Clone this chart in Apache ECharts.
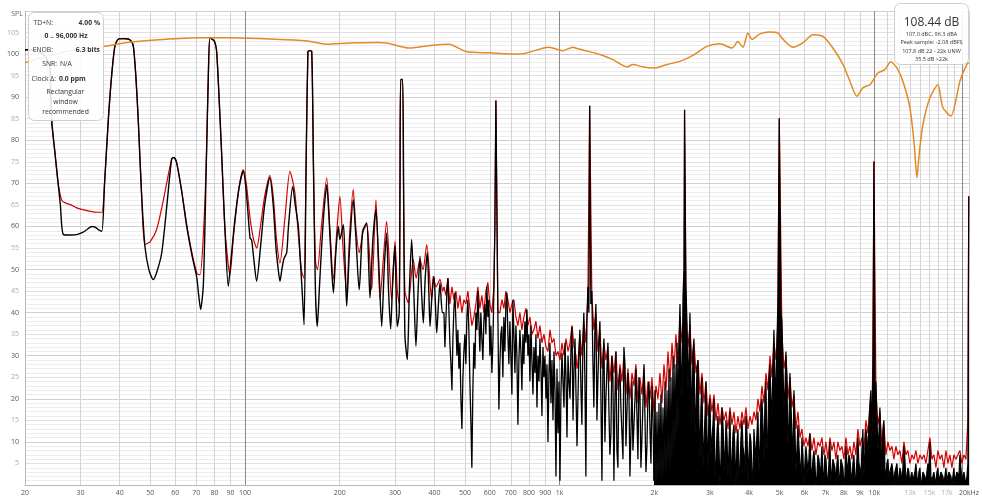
<!DOCTYPE html>
<html>
<head>
<meta charset="utf-8">
<script src="https://cdn.jsdelivr.net/npm/echarts@6/dist/echarts.min.js"></script>
<style>
html,body{margin:0;padding:0;background:#fff;}
#c{width:982px;height:500px;}
</style>
</head>
<body>
<div id="c"></div>
<script>
// ---------- axis definitions ----------
const xGridFreqs = [20,30,40,50,60,70,80,90,100,200,300,400,500,600,700,800,900,1000,2000,3000,4000,5000,6000,7000,8000,9000,10000,11000,12000,13000,14000,15000,16000,17000,18000,19000,20000];
const xLabelFreqs = [20,30,40,50,60,70,80,90,100,200,300,400,500,600,700,800,900,1000,2000,3000,4000,5000,6000,7000,8000,9000,10000,13000,15000,17000,20000];
const xLabelTexts = ['20','30','40','50','60','70','80','90','100','200','300','400','500','600','700','800','900','1k','2k','3k','4k','5k','6k','7k','8k','9k','10k','13k','15k','17k','20kHz'];
const xFaintLabels = ['13k','15k','17k'];
const yMin = 0, yMax = 110, yStep = 5;
const denseFromHz = 1995;   // above this the black spectrum is a dense filled mass

// ---------- low-frequency part of spectra [Hz, dB] (smooth region) ----------
const blackLow = [[20,101.0],[21,101.0],[21.8,100.8],[22.6,100.2],[23.1,99.5],[23.6,98.5],[24.0,97.2],[24.3,84.8],[24.9,77.1],[25.9,65.1],[26.5,58.1],[28,58.0],[29.2,58.1],[30.5,58.6],[31.5,59.3],[32.6,60.0],[33.5,59.8],[34.3,59.2],[35.1,58.9],[35.8,70],[36.8,84.8],[37.7,95],[38.6,101.8],[39.6,103.5],[41,103.6],[42.6,103.5],[43.5,103.0],[44.2,101.8],[45,95],[45.8,84.8],[46.9,68],[48.1,55.4],[49.5,50],[51.1,47.7],[52.5,49.5],[54.4,53.9],[56.5,65],[58.5,75.7],[59.5,76],[60.7,74.7],[63,68],[65.3,60.0],[68,53],[70.2,48.4],[71.3,44],[72.3,40.7],[73.8,46.9],[75.5,77.1],[76.5,95],[77.4,103.8],[78.9,103.4],[80,103],[81.2,101.0],[82.5,92],[84.3,77.1],[86.3,60],[88.5,46.1],[90.5,53],[92.9,61.6],[95.8,69],[98.8,72.8],[101,68],[103.8,57.3],[105,56.9],[106.5,53],[108.9,47.3],[112,55],[115.5,65],[120,71.3],[123,65],[125.5,55],[127.6,50],[129.2,47.3],[131,50],[133,52.5],[135.7,53.9],[137.5,60],[141.8,69.3],[144.5,65],[147.8,60.0],[150,52],[152,45],[154.1,37.2],[156.5,75],[158.5,100.5],[160,100.8],[163,100.6],[165,75],[167.5,45],[169.8,36.8],[172.5,46],[175.3,55.4],[178.5,64],[181.9,69.7],[185,62],[188,52],[191,44.6],[194.5,54],[198,60.0],[200.3,57.0],[205.4,60.4],[208,52],[210.5,41.5],[215,55],[220.8,66.2],[225,58],[230.7,45.3],[236.6,58.9],[243.7,60.8],[247,52],[249.7,43.4],[255,57],[260.8,63.9],[266,52],[272,36.8],[277,50],[281.9,58.5],[286,45],[290.4,36.2],[295,48],[299.8,55.4],[302,46],[304.8,36.8],[309.2,39.9],[311,70],[312.6,94.1],[317,94.1],[319.5,65],[322.5,34.5],[328.1,29.1],[333,45],[338.7,57.0],[344,45],[349.5,32.2],[355,45],[359.9,53.1],[364,45],[368.9,37.6],[374,48],[379.8,53.9],[384,45],[387.4,36.8],[393,44],[398.9,48.4],[403,42],[406.9,35.3],[412,42],[416.7,46.9],[424,40]];

const redLow = [[20,101.0],[21,101.0],[21.8,100.8],[22.6,100.2],[23.1,99.5],[23.6,98.5],[24.0,97.2],[24.3,84.8],[24.9,77.1],[25.5,70],[26.2,66],[27,65.4],[28,65.0],[29.2,64.3],[30.5,63.9],[32.3,63.5],[34,63.3],[35.1,63.3],[35.8,70],[36.8,84.8],[37.7,95],[38.6,101.8],[39.6,103.5],[41,103.6],[42.6,103.5],[43.5,103.0],[44.2,101.8],[45,95],[45.8,84.8],[46.9,68],[48.1,55.8],[50,56.5],[52.4,59.3],[55,66],[58.5,75.7],[59.5,76],[60.7,74.7],[63,68],[65.3,60.5],[68,53.5],[70.5,49],[72,48.8],[74,60],[75.5,77.1],[76.5,95],[77.4,103.8],[78.9,103.4],[80,103],[81.2,101.0],[82.5,92],[84.3,77.1],[86.3,60],[89.6,48.8],[92,58],[95.8,69],[98.8,73.2],[101,70],[103.8,62],[106.5,57],[109,55],[112,60],[115.5,67],[120,71.8],[123,67],[126,57],[129.2,51.5],[134,62],[139,72.8],[144,68],[147.8,58],[151.4,49.6],[154,48],[156.5,75],[158.5,100.5],[160,100.8],[163,100.6],[165,75],[167.5,52],[170,50],[175,60],[181.9,71.3],[186,60],[191,47.7],[195.5,58],[200.3,67.0],[205,55],[210.5,44.6],[215,58],[220.8,68.6],[225,60],[230.7,53.9],[237.7,58.9],[244,60.4],[252.9,45.3],[260.8,66.2],[268.7,43.0],[275,52],[281.9,61.2],[292.5,43.0],[299.8,56.6],[305,45],[309.2,42],[311,70],[312.6,94.1],[317,94.1],[319.5,65],[322.5,45],[330.3,42.3],[342.7,52.3],[350,48],[359.9,52.3],[368,50],[378.2,55.8],[392,43.0],[396.4,48.4],[405,46],[416.7,47.7],[425,45]];

// ---------- mid band 429 Hz - 1136 Hz ----------
const blackMidFreq = [
429,432,435,438.5,441.7,445,448,451.5,454.8,458,
461.5,464.8,468.2,471.7,475,478.6,482,485.6,489.2,492.8,
496.4,500,503.7,507.4,511,514.8,518.6,522.4,526.2,530,
534,538,541.9,545.9,549.9,553.9,558,562,566.2,570.3,
574.5,578.7,583,587.3,591.6,595.9,600.3,604.7,609.2,613.7,
618.2,622.7,627.3,631.9,636.5,641.2,645.9,650.6,655.4,660.2,
665.1,670,674.9,679.9,684.9,689.9,695,700.1,705.3,710.5,
715.7,721,726.3,731.6,737,742.4,747.9,753.4,758.9,764.5,
770.1,775.8,781.5,787.3,793.1,798.9,804.8,810.7,816.7,822.7,
828.7,834.8,841,847.2,853.4,859.7,866,872.4,878.8,885.3,
891.8,898.3,905,911.6,918.3,925.1,931.9,938.7,945.6,952.6,
959.6,966.7,973.8,981,988.2,995.4,1002.7,1010.1,1017.5,1025,
1032.6,1040.2,1047.8,1055.5,1063.3,1071.1,1079,1086.9,1094.9,1103,
1111.1,1119.3,1127.5,1135.8];
const blackMidDb = [
40,32,38,45,48,40,33,28,22,34,
41,44.6,38,30,36,27,33,20,13,25,
31,35,28,39,43,36,24,15,4,22,
33,27,40,36,45,38,31,40,34,29,
38,42,35,46,39,43,30,37,26,33,
45,60,89.2,89.2,40,17.5,28,35,36.8,25,
39,31,42,44.6,35,28,38,30,21,43,
35,26,37,30,14,29,36,31,22,35,
28,38,33,40.7,30,35,24,37,29,21,
32,26,35,18,30,24,34,27,16,32,
25,30,20,28,10,26,33,19,29,15,
31,22,2,27,12,24,1,22,30.7,24,
18,33,25,11,30,24,20,32,36.8,15,
27,34,21,9];

const redMid = [[429,46],[435,44],[441.7,48],[448,42],[454.8,46],[461.5,43],[468.2,45],[475,41],[482,44],[489.2,40],[496.4,43],[503.7,42],[511,45],[518.6,41],[526.2,37],[534,39],[541.9,42],[549.9,46],[558,41],[566.2,44],[574.5,40],[583,45],[591.6,47],[600.3,42],[609.2,40],[618.2,46],[622.7,60],[627.3,89.2],[631.9,89.2],[636.5,40],[645.9,40],[655.4,43],[665.1,41],[674.9,45],[684.9,43],[695,40],[705.3,42],[715.7,43],[726.3,39],[737,37],[747.9,40],[758.9,36],[770.1,39],[781.5,41],[793.1,37],[804.8,39],[816.7,35],[828.7,36],[841,38],[853.4,34],[866,37],[878.8,33],[891.8,35],[905,32],[918.3,31],[931.9,36],[945.6,33],[959.6,34],[973.8,30],[988.2,31],[1002.7,29],[1017.5,33],[1032.6,30],[1047.8,34],[1063.3,31],[1079,33],[1094.9,37],[1111.1,32],[1127.5,30],[1135.8,27]];

// ---------- high band (shared frequency list) ----------
const hfFreq = [
1143,1160,1177,1194,1212,1230,1246,1251,1266,1285,
1304,1323,1343,1363,1383,1403,1424,1445,1466,1488,
1510,1532,1555,1578,1601,1625,1649,1673,1698,1723,
1748,1774,1800,1827,1854,1881,1909,1937,1966,1995,
2024,2054,2084,2115,2146,2178,2210,2243,2276,2309,
2343,2378,2413,2449,2485,2495,2502,2521,2558,2596,
2634,2673,2713,2753,2793,2834,2876,2918,2961,3005,
3049,3094,3140,3186,3233,3281,3329,3378,3428,3478,
3530,3582,3635,3688,3743,3798,3854,3911,3968,4027,
4086,4146,4207,4269,4332,4396,4461,4526,4593,4661,
4729,4799,4870,4941,4990,5005,5088,5163,5239,5316,
5395,5474,5555,5637,5720,5804,5890,5977,6065,6154,
6245,6337,6430,6525,6621,6718,6817,6918,7020,7123,
7228,7335,7443,7552,7664,7777,7891,8008,8126,8245,
8367,8490,8615,8742,8871,9002,9134,9269,9406,9544,
9685,9828,9900,9975,10010,10120,10269,10420,10574,10730,
10888,11049,11211,11377,11544,11715,11887,12062,12240,12421,
12604,12790,12978,13170,13364,13561,13761,13964,14170,14379,
14591,14806,15024,15246,15471,15699,15930,16165,16404,16645,
16891,17140,17393,17649,17909,18173,18441,18713,18989,19269,
19553,19841,19960,20000];

const blackHfDb = [
9,36,14,40,2,46,88,88,45,18,
42,24,38,1,34,20,33,7,30,1,
31,4,27,12,32,9,26,2,24,14,
27,6,22,11,28,3,21,13,23,1,
0,1,2,1,3,2,5,3,6,8,
10,12,42,20,50,87.1,87,46,22,40,
14,34,18,29,6,25,10,24,3,20,
11,20,5,16,0,18,8,15,2,17,
6,14,0,13,4,15,7,16,1,12,
3,13,6,17,9,20,5,24,12,28,
16,36,22,43,85.1,85,38,18,31,9,
26,12,22,3,14,5,11,0,9,3,
12,2,8,0,7,3,9,1,6,0,
10,3,6,0,7,2,5,0,9,3,
6,0,7,1,11,4,8,2,13,6,
19,10,27,75.1,75,24,8,18,3,15,
1,6,3,5,0,4,2,4,0,9,
1,4,0,3,2,5,0,4,1,3,
0,5,10,1,3,0,4,2,3,0,
4,1,3,0,4,2,3,7,1,3,
0,5,67,67];

// black only: in-between bins
const hfOddFreq = [
1151,1169,1186,1203,1221,1239,1257,1275,1294,1314,
1333,1353,1373,1393,1413,1434,1456,1477,1499,1521,
1543,1566,1590,1613,1637,1661,1685,1710,1736,1761,
1787,1813,1840,1868,1895,1923,1951,1980,2010,2039,
2069,2099,2131,2162,2194,2226,2259,2293,2326,2360,
2395,2431,2467,2539,2577,2615,2653,2693,2733,2773,
2813,2855,2897,2939,2983,3027,3071,3117,3163,3209,
3257,3305,3353,3403,3453,3504,3556,3608,3662,3715,
3770,3826,3882,3940,3997,4057,4116,4176,4238,4300,
4364,4428,4494,4559,4627,4695,4764,4834,4906,5051,
5125,5201,5277,5355,5435,5514,5596,5678,5762,5847,
5933,6021,6110,6199,6291,6384,6477,6573,6670,6767,
6867,6969,7072,7175,7281,7389,7498,7607,7720,7834,
7949,8067,8186,8305,8428,8552,8678,8806,8936,9068,
9201,9337,9475,9614,9756,10060,10194,10344,10496,10652,
10809,10968,11130,11293,11460,11629,11801,11974,12151,12330,
12512,12697,12884,13073,13267,13462,13661,13862,14066,14274,
14485,14698,14915,15134,15358,15585,15814,16047,16284,16524,
16767,17015,17266,17521,17779,18040,18306,18576,18850,19128,
19410,19697];
const blackOddDb = [
30,22,33,25,38,40,42,30,35,15,
33,20,28,10,26,18,12,25,20,8,
24,18,6,28,17,21,12,8,20,16,
25,4,19,15,9,24,5,16,22,17,
19,21,18,24,22,27,25,30,28,33,
33,28,44,38,30,25,31,12,27,15,
18,4,16,12,18,7,14,2,12,9,
6,14,3,11,8,1,12,7,10,2,
11,9,3,12,7,10,1,9,12,3,
18,14,20,8,25,20,28,25,33,40,
28,22,25,14,19,5,13,8,9,2,
7,5,9,6,4,6,5,2,6,4,
3,7,2,5,1,6,4,5,1,6,
4,2,5,7,3,5,2,6,5,1,
13,8,11,14,22,20,16,12,10,13,
4,5,2,4,3,3,5,1,3,4,
6,2,3,2,1,3,2,3,0,3,
2,3,4,2,2,3,3,0,3,2,
2,1,3,2,2,0,3,2,4,2,
3,2];

const redHfDb = [
28,35,30,38,33,44,88,88,44,36,
40,31,36,27,33,29,32,24,30,26,
31,22,28,24,30,21,27,20,26,23,
28,19,25,21,27,18,24,20,25,17,
23,20,26,19,28,22,31,24,33,27,
35,28,39,33,42,87.1,87,40,32,37,
28,33,26,29,21,26,19,24,16,21,
17,21,15,19,14,18,15,17,13,18,
14,17,12,16,13,17,14,18,13,16,
14,17,15,20,17,23,19,26,22,30,
25,33,29,38,85.1,85,35,27,30,20,
25,18,21,13,17,11,13,9,11,9,
12,8,11,7,10,9,11,7,10,6,
11,8,10,6,10,8,9,6,11,7,
9,6,10,7,13,9,11,8,15,12,
18,16,30,75.1,75,22,14,17,9,14,
7,10,8,9,6,9,7,8,5,10,
7,8,5,7,6,8,5,7,6,7,
5,8,11,6,7,4,8,6,7,4,
8,5,7,4,7,6,7,8,5,7,
6,15,67,67];

// ---------- orange SPL curve [Hz, dB] ----------
const orangeSpl = [[20,98.0],[23.5,99.5],[28.8,101.0],[35.9,101.8],[42.2,102.7],[54.9,103.4],[71.4,103.8],[89.6,103.8],[120,103.5],[156,103.1],[182,102.3],[216,102.6],[263,102.7],[285,102.5],[332,101.4],[387,102.0],[445,102.3],[504,100.6],[600,100.3],[748,100.0],[925,101.6],[1025,100.8],[1102,101.6],[1135,101.3],[1222,100.7],[1343,99.9],[1478,98.7],[1637,97.0],[1711,97.6],[1841,97.0],[2009,96.8],[2193,97.6],[2410,98.3],[2653,99.7],[2938,101.8],[3232,102.4],[3529,101.4],[3687,102.9],[3825,101.6],[3968,104.9],[4085,103.4],[4331,104.7],[4657,105.1],[4941,104.9],[5087,103.7],[5513,101.6],[5930,102.6],[6383,104.5],[6865,104.1],[7387,101.4],[7950,97.6],[8367,93.7],[8806,90.2],[9204,92.2],[9684,92.9],[10268,95.6],[10808,96.4],[11293,98.2],[11800,96.8],[12330,93.7],[12976,87.6],[13400,79],[13657,71.3],[13900,77],[14270,83.6],[15015,89.8],[15923,92.9],[16514,87.6],[17520,85.6],[18713,93.7],[19693,97.6],[20000,98.0]];

// ---------- info boxes text ----------
const leftBoxRows = [
  {label:'TD+N:', value:'4.00 %'},
  {center:'0 .. 96,000 Hz'},
  {label:'ENOB:', value:'6.3 bits'},
  {label:'SNR:', value2:'N/A'},
  {label:'Clock Δ:', value2:'0.0 ppm'},
  {note:'Rectangular'},{note:'window'},{note:'recommended'}
];
const rightBoxTitle = '108.44 dB';
const rightBoxLines = ['107.0 dBC, 96.3 dBA','Peak sample: -2.08 dBFS','107.8 dB 22 - 22k UNW','35.5 dB >22k'];

// ---------- build ----------
const zip = (f, d) => f.map((v, i) => [v, d[i]]);
const blackMid = zip(blackMidFreq, blackMidDb);
const blackRest = blackMid.concat(zip(hfFreq, blackHfDb), zip(hfOddFreq, blackOddDb)).sort((a, b) => a[0] - b[0]);
const blackLine = blackRest.filter(p => p[0] <= denseFromHz);
const blackDense = blackRest.filter(p => p[0] >= denseFromHz);
const blackLowData = blackLow.concat([blackMid[0]]);
const redRest = redMid.concat(zip(hfFreq, redHfDb));
const redLowData = redLow.concat([redMid[0]]);
const labelMap = {};
xLabelFreqs.forEach((f, i) => { labelMap[f] = xLabelTexts[i]; });

const FONT = '"Open Sans", "Noto Sans", sans-serif';
const gridColors = ['#d4d4d4','#d4d4d4','#d4d4d4','#d4d4d4','#d4d4d4','#d4d4d4','#d4d4d4','#d4d4d4','#8a8a8a'];

const graphics = [];
graphics.push({type:'rect', shape:{x:28.5,y:12.5,width:75,height:108,r:6}, style:{fill:'rgba(255,255,255,0.88)', stroke:'#cfcfcf', lineWidth:1}, z:100});
const rowY = [23, 36.5, 50.5, 64.5, 79, 92.5, 102.5, 112];
leftBoxRows.forEach((r, i) => {
  const y = rowY[i];
  const base = {fill:'#333', textVerticalAlign:'middle'};
  if (r.label) graphics.push({type:'text', x: r.value2 ? (r.label === 'SNR:' ? 57 : 56) : 53, y, z:101, style:Object.assign({text:r.label, font:'6.8px ' + FONT, textAlign:'right'}, base)});
  if (r.value) graphics.push({type:'text', x:100, y, z:101, style:Object.assign({text:r.value, font:'bold 6.8px ' + FONT, textAlign:'right'}, base)});
  if (r.value2) graphics.push({type:'text', x: r.label === 'SNR:' ? 60 : 59, y, z:101, style:Object.assign({text:r.value2, font:(r.label === 'SNR:' ? '' : 'bold ') + '6.8px ' + FONT, textAlign:'left'}, base)});
  if (r.center) graphics.push({type:'text', x:66, y, z:101, style:Object.assign({text:r.center, font:'bold 6.8px ' + FONT, textAlign:'center'}, base)});
  if (r.note) graphics.push({type:'text', x:65.5, y, z:101, style:Object.assign({text:r.note, font:'6.8px ' + FONT, textAlign:'center'}, base)});
});
graphics.push({type:'rect', shape:{x:894.5,y:3.5,width:74,height:61,r:6}, style:{fill:'rgba(255,255,255,0.88)', stroke:'#cfcfcf', lineWidth:1}, z:100});
graphics.push({type:'text', x:931.5, y:22.5, z:101, style:{text:rightBoxTitle, font:'12px ' + FONT, fill:'#333', textAlign:'center', textVerticalAlign:'middle'}});
[34, 42.5, 51, 59.5].forEach((y, i) => {
  graphics.push({type:'text', x:931.5, y, z:101, style:{text:rightBoxLines[i], font:'5.5px ' + FONT, fill:'#333', textAlign:'center', textVerticalAlign:'middle'}});
});
graphics.push({type:'text', x:17, y:14, z:101, style:{text:'SPL', font:'7px ' + FONT, fill:'#666', textAlign:'center', textVerticalAlign:'middle'}});

const chart = echarts.init(document.getElementById('c'), null, {renderer:'canvas'});
chart.setOption({
  animation: false,
  backgroundColor: '#ffffff',
  grid: {left: 25, top: 11, width: 944, height: 474, containLabel: false, outerBoundsMode: 'none'},
  xAxis: {
    type: 'log', logBase: 10, min: 20, max: 20000,
    axisLine: {show: true, lineStyle: {color: '#b8b8b8', width: 1}},
    axisTick: {show: false, customValues: xGridFreqs},
    axisLabel: {
      customValues: xLabelFreqs,
      formatter: v => labelMap[Math.round(v)] || '',
      color: v => xFaintLabels.includes(labelMap[Math.round(Number(v))]) ? '#b0b0b0' : '#555',
      fontSize: 7, fontFamily: FONT, margin: 4
    },
    splitLine: {show: true, lineStyle: {color: gridColors, width: 1}}
  },
  yAxis: {
    type: 'value', min: yMin, max: yMax, interval: yStep,
    axisLine: {show: true, lineStyle: {color: '#b8b8b8', width: 1}},
    axisTick: {show: false},
    axisLabel: {
      showMinLabel: false, showMaxLabel: false,
      fontSize: 7, fontFamily: FONT, margin: 6,
      color: v => (Number(v) % 10 === 0 ? '#555' : '#aaa')
    },
    splitLine: {show: true, lineStyle: {color: ['#d0d0d0', '#e0e0e0'], width: 1}},
    minorTick: {show: false, splitNumber: 5},
    minorSplitLine: {show: true, lineStyle: {color: '#ededed', width: 1}}
  },
  series: [
    {type: 'line', name: 'redLow', data: redLowData, symbol: 'none', smooth: 0.25, z: 2,
     lineStyle: {color: '#d60000', width: 1.2}, silent: true},
    {type: 'line', name: 'red', data: redRest, symbol: 'none', z: 2,
     lineStyle: {color: '#d60000', width: 1.2}, silent: true},
    {type: 'line', name: 'blackLow', data: blackLowData, symbol: 'none', smooth: 0.25, z: 3,
     lineStyle: {color: '#000000', width: 1.4}, silent: true},
    {type: 'line', name: 'black', data: blackLine, symbol: 'none', z: 3,
     lineStyle: {color: '#000000', width: 1.3}, silent: true},
    {type: 'line', name: 'blackDense', data: blackDense, symbol: 'none', z: 3,
     lineStyle: {color: '#000000', width: 1.2}, areaStyle: {color: '#000000', opacity: 1}, silent: true},
    {type: 'line', name: 'spl', data: orangeSpl, symbol: 'none', smooth: 0.25, z: 4,
     lineStyle: {color: '#e28a26', width: 1.5}, silent: true}
  ],
  graphic: graphics
});
</script>
</body>
</html>
